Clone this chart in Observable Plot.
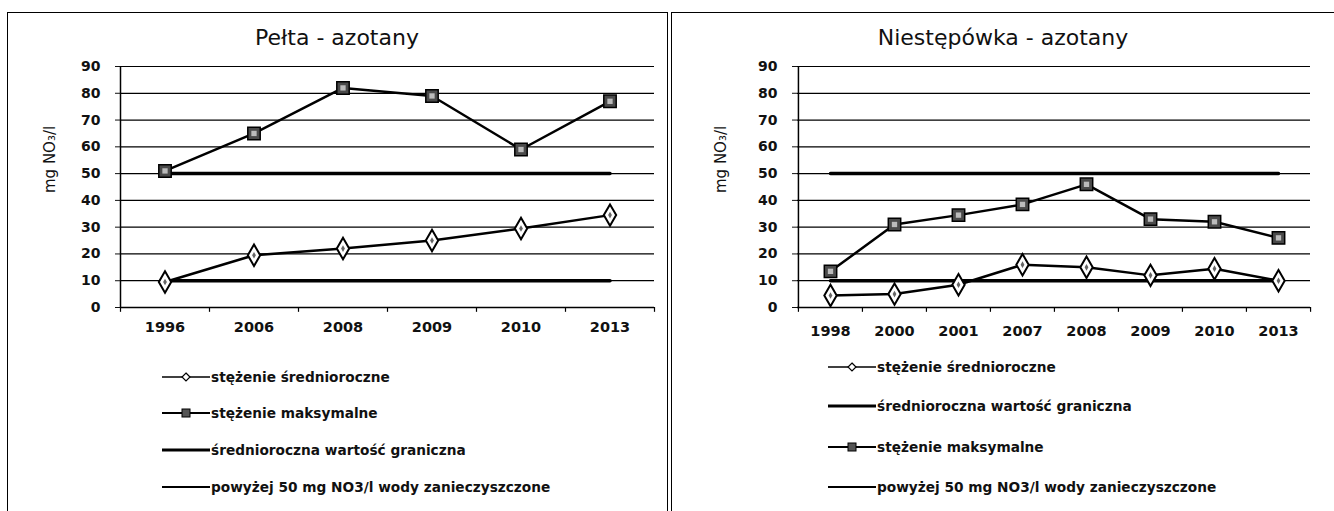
<!DOCTYPE html>
<html><head><meta charset="utf-8">
<script src="https://cdn.jsdelivr.net/npm/d3@7"></script>
<script src="https://cdn.jsdelivr.net/npm/@observablehq/plot@0.6"></script>
<style>
body{margin:0;background:#fff;width:1334px;height:511px;overflow:hidden;position:relative;font-family:"DejaVu Sans",sans-serif;color:#000}
.panel{position:absolute;top:12px;height:520px;border:1.5px solid #000;box-sizing:border-box}
.title{position:absolute;top:25px;font-size:22px;text-align:center;color:#111}
.chart{position:absolute;top:50px}
.legend{position:absolute;font-size:13.7px;font-weight:700;color:#111}
.li{position:absolute;white-space:nowrap;display:flex;align-items:center;height:16px}
.li svg{margin-right:1px}
</style></head><body>
<div class="panel" style="left:7px;width:661px"></div>
<div class="panel" style="left:671px;width:670px;border-right:none"></div>
<div class="title" style="left:7px;width:660px">Pełta - azotany</div>
<div class="title" style="left:672px;width:662px">Niestępówka - azotany</div>
<div id="c1" class="chart" style="left:7px"></div>
<div id="c2" class="chart" style="left:672px"></div>
<div id="l1" class="legend" style="left:162px;top:0"></div>
<div id="l2" class="legend" style="left:828px;top:0"></div>
<script>
// Pełta
const yearsA = ["1996","2006","2008","2009","2010","2013"];
const meanA  = [9.5, 19.5, 22, 25, 29.5, 34.5];
const maxA   = [51, 65, 82, 79, 59, 77];
const limitA = [10, 10, 10, 10, 10, 10];
const pollA  = [50, 50, 50, 50, 50, 50];
// Niestępówka
const yearsB = ["1998","2000","2001","2007","2008","2009","2010","2013"];
const meanB  = [4.5, 5, 8.5, 16, 15, 12, 14.5, 10];
const maxB   = [13.5, 31, 34.5, 38.5, 46, 33, 32, 26];
const limitB = [10, 10, 10, 10, 10, 10, 10, 10];
const pollB  = [50, 50, 50, 50, 50, 50, 50, 50];
const yTicks = [0,10,20,30,40,50,60,70,80,90];
const yLabel = "mg NO₃/l";
const legendA = ["stężenie średnioroczne","stężenie maksymalne","średnioroczna wartość graniczna","powyżej 50 mg NO3/l wody zanieczyszczone"];
const legendB = ["stężenie średnioroczne","średnioroczna wartość graniczna","stężenie maksymalne","powyżej 50 mg NO3/l wody zanieczyszczone"];

function chart(years, mean, max, limit, poll, o){
  const rows = years.map((y,i)=>({year:y, mean:mean[i], max:max[i], limit:limit[i], poll:poll[i]}));
  const bw = (o.width - o.ml - o.mr)/years.length;
  return Plot.plot({
    width:o.width, height:300, marginLeft:o.ml, marginRight:o.mr, marginTop:16, marginBottom:43,
    style:{fontFamily:"'DejaVu Sans', sans-serif", fontSize:"14px", fontWeight:"700", color:"#111", background:"transparent"},
    x:{type:"band", domain:years, padding:0, label:null},
    y:{domain:[0,90], label:null},
    marks:[
      Plot.gridY(yTicks, {stroke:"#000", strokeOpacity:1, strokeWidth:1.2}),
      Plot.axisY(yTicks, {tickSize:5, tickPadding:15, label:null, fontSize:14}),
      Plot.text([yLabel], {frameAnchor:"left", rotate:-90, dx:o.lo, dy:6, fontSize:15, fontWeight:400, fill:"#111"}),
      Plot.axisX({tickSize:0, tickPadding:o.xp, label:null, fontSize:14.5}),
      Plot.ruleX(years, {x:d=>d, y1:0, y2:-1.8, dx:-bw/2, stroke:"#000", strokeWidth:1.2}),
      Plot.ruleX(years.slice(-1), {x:d=>d, y1:0, y2:-1.8, dx:bw/2, stroke:"#000", strokeWidth:1.2}),
      Plot.ruleX(years.slice(0,1), {x:d=>d, y1:0, y2:90, dx:-bw/2, stroke:"#000", strokeWidth:1.5}),
      Plot.ruleY([0], {stroke:"#000", strokeWidth:1.5}),
      Plot.line(rows, {x:"year", y:"limit", stroke:"#000", strokeWidth:3.5}),
      Plot.line(rows, {x:"year", y:"poll", stroke:"#000", strokeWidth:3.5}),
      Plot.line(rows, {x:"year", y:"max", stroke:"#000", strokeWidth:2.5}),
      Plot.line(rows, {x:"year", y:"mean", stroke:"#000", strokeWidth:2.5}),
      Plot.dot(rows, {x:"year", y:"max", symbol:"square", r:7, fill:"#4a4a4a", stroke:"#000", strokeWidth:1.5}),
      Plot.dot(rows, {x:"year", y:"max", symbol:"square", r:3, fill:"#bbb", stroke:"none"}),
      Plot.dot(rows, {x:"year", y:"mean", symbol:"diamond", r:6.5, fill:"#fff", stroke:"#000", strokeWidth:2}),
      Plot.dot(rows, {x:"year", y:"mean", symbol:"diamond", r:2, fill:"#666", stroke:"none"})
    ]
  });
}
document.getElementById("c1").append(chart(yearsA, meanA, maxA, limitA, pollA, {width:660, ml:113, mr:13, lo:-70, xp:14}));
document.getElementById("c2").append(chart(yearsB, meanB, maxB, limitB, pollB, {width:662, ml:125, mr:24, lo:-76, xp:18}));

function sample(kind){
  let s = '<svg width="48" height="12">';
  if(kind==="mean") s += '<line x1="0" y1="6" x2="48" y2="6" stroke="#000" stroke-width="1.5"/><path d="M24 2L28 6L24 10L20 6Z" fill="#fff" stroke="#000" stroke-width="1.2"/>';
  else if(kind==="max") s += '<line x1="0" y1="6" x2="48" y2="6" stroke="#000" stroke-width="2.2"/><rect x="20" y="2" width="8" height="8" fill="#555" stroke="#000"/>';
  else if(kind==="limit") s += '<line x1="0" y1="6" x2="48" y2="6" stroke="#000" stroke-width="3"/>';
  else s += '<line x1="0" y1="6" x2="48" y2="6" stroke="#000" stroke-width="2"/>';
  return s + '</svg>';
}
function legend(id, labels, kinds, tops){
  const el = document.getElementById(id);
  labels.forEach((t,i)=>{
    const d = document.createElement("div");
    d.className = "li"; d.style.top = (tops[i]-8)+"px";
    d.innerHTML = sample(kinds[i]) + "<span>"+t+"</span>";
    el.append(d);
  });
}
legend("l1", legendA, ["mean","max","limit","poll"], [377,413,450,487]);
legend("l2", legendB, ["mean","limit","max","poll"], [367,406,447,487]);
</script>
</body></html>
